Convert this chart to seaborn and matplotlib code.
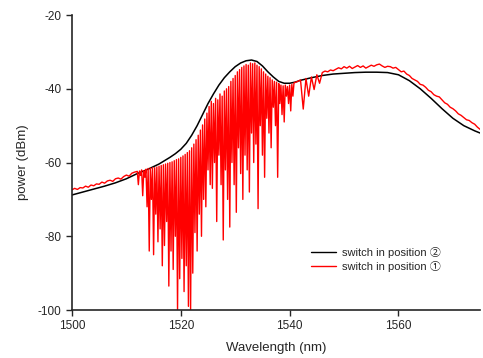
import numpy as np
import pandas as pd
import matplotlib
matplotlib.use("Agg")
import matplotlib.pyplot as plt
import seaborn as sns

# Reference spectrum (switch in position 2), smooth
black_wl = [1500, 1502, 1504, 1506, 1508, 1510, 1512, 1514, 1516, 1518, 1519,
            1520, 1521, 1522, 1523, 1524, 1525, 1526, 1527, 1528, 1529, 1530,
            1531, 1532, 1533, 1534, 1535, 1536, 1537, 1538, 1539, 1540, 1541,
            1542, 1544, 1546, 1548, 1550, 1552, 1554, 1556, 1558, 1560, 1562,
            1564, 1566, 1568, 1570, 1572, 1574, 1575]
black_pw = [-68.8, -68.0, -67.2, -66.4, -65.5, -64.4, -63.0, -61.8, -60.4, -58.6,
            -57.6, -56.4, -54.8, -52.6, -50.0, -47.0, -44.0, -41.4, -39.0, -37.0,
            -35.4, -34.0, -33.0, -32.4, -32.2, -32.6, -33.8, -35.4, -36.8, -38.0,
            -38.5, -38.5, -38.2, -37.7, -37.0, -36.4, -36.0, -35.8, -35.6, -35.5,
            -35.5, -35.6, -36.2, -37.8, -40.0, -42.6, -45.4, -48.0, -50.0, -51.4,
            -52.0]

# switch in position 1: left part before the fringes (0.5 nm steps from 1500)
red_left = [-67.4, -67.0, -67.3, -66.8, -66.9, -66.4, -66.7, -66.1, -66.3,
            -65.8, -65.9, -65.3, -65.6, -65.0, -64.8, -65.1, -64.4, -64.2,
            -64.5, -63.8, -63.4, -63.7, -62.9, -62.6, -62.4]

# fringe region: dips every 0.4 nm from 1512.2, tops halfway between
fringe_dip = [-66, -63.5, -69, -64, -72, -84, -70, -85, -74, -81.5,
              -78, -88, -82.5, -76, -93.5, -84, -89, -80, -100, -91.5,
              -86, -95, -88, -99, -100, -90, -79, -84, -74, -80,
              -70, -72, -62, -66, -67, -60, -76, -58, -66, -81,
              -62, -70, -77.5, -60, -66, -73.5, -56, -63, -70, -58,
              -62, -68, -52, -60, -55, -72.5, -50, -58, -64, -48,
              -52, -56, -45, -50, -64, -44, -47, -49, -42, -44,
              -46, -42]
fringe_top = [-62.3, -62.0, -62.2, -61.8, -61.6, -61.5, -61.4, -61.4, -61.2, -61.0,
              -60.8, -60.6, -60.4, -60.2, -60.0, -59.8, -59.5, -59.2, -59.0, -58.6,
              -58.2, -57.8, -57.3, -56.8, -56.0, -55.0, -53.8, -52.6, -51.2, -49.8,
              -48.2, -46.6, -44.8, -43.4, -44.0, -42.6, -43.0, -41.4, -42.0, -40.6,
              -40.0, -39.4, -38.0, -37.2, -36.4, -35.4, -34.8, -34.2, -33.8, -33.4,
              -33.6, -33.0, -33.2, -33.0, -33.6, -34.0, -34.6, -35.4, -36.0, -36.6,
              -37.0, -37.6, -38.0, -38.2, -38.6, -39.0, -39.2, -39.0, -39.4, -39.0,
              -38.8, -38.4]

# right part after the fringes (0.5 nm steps from 1541.5)
red_right = [-38.0, -37.6, -45.5, -37.2, -42.0, -36.8, -40.2, -36.2, -38.5, -35.6,
             -35.2, -35.4, -34.9, -35.1, -34.7, -34.3, -34.6, -34.0, -34.4, -33.9,
             -34.5, -34.1, -33.7, -34.2, -33.8, -34.4, -34.0, -33.6, -33.9, -33.5,
             -33.3, -33.8, -34.2, -33.9, -34.0, -34.4, -34.2, -34.8, -35.4, -35.2,
             -36.0, -36.4, -37.2, -37.6, -38.0, -38.8, -39.0, -39.6, -40.4, -40.8,
             -41.6, -42.0, -42.2, -43.0, -43.8, -44.2, -45.0, -45.4, -46.0, -46.8,
             -47.2, -47.8, -48.4, -48.6, -49.2, -49.6, -50.4, -51.0]

left_wl = 1500 + 0.5 * np.arange(len(red_left))
dip_wl = 1512.2 + 0.4 * np.arange(len(fringe_dip))
top_wl = dip_wl + 0.2
fringe_wl = np.ravel(np.column_stack([dip_wl, top_wl]))
fringe_pw = np.ravel(np.column_stack([fringe_dip, fringe_top]))
right_wl = 1541.5 + 0.5 * np.arange(len(red_right))

red_wl = np.concatenate([left_wl, fringe_wl, right_wl])
red_pw = np.concatenate([red_left, fringe_pw, red_right])

sns.set_style("ticks")
plt.rcParams['font.family'] = ['Liberation Sans', 'Noto Sans CJK JP', 'DejaVu Sans']
plt.rcParams['axes.unicode_minus'] = False

fig, ax = plt.subplots(figsize=(4.83, 3.58), dpi=100)
fig.subplots_adjust(left=0.149, right=0.994, bottom=0.134, top=0.958)

sns.lineplot(x=black_wl, y=black_pw, color='black', linewidth=1.1,
             estimator=None, sort=False, ax=ax, label='switch in position \u2461')
sns.lineplot(x=red_wl, y=red_pw, color='#ff0000', linewidth=1.0,
             estimator=None, sort=False, ax=ax, label='switch in position \u2460')

ax.set_xlim(1500, 1575)
ax.set_ylim(-100, -20)
ax.set_xticks([1500, 1520, 1540, 1560])
ax.set_yticks([-100, -80, -60, -40, -20])
ax.tick_params(labelsize=8.5, length=4, width=1, direction='out')
ax.set_xlabel('Wavelength (nm)', fontsize=9.5, labelpad=7)
ax.set_ylabel('power (dBm)', fontsize=9.5, labelpad=6)
sns.despine(ax=ax)
for s in ['left', 'bottom']:
    ax.spines[s].set_linewidth(1.2)

leg = ax.legend(loc='center left', bbox_to_anchor=(0.575, 0.172), frameon=False,
                fontsize=8, handlelength=2.2, handletextpad=0.6,
                borderaxespad=0, labelspacing=0.25)
for line in leg.get_lines():
    line.set_linewidth(1.0)

fig.savefig('out.png', dpi=100)
